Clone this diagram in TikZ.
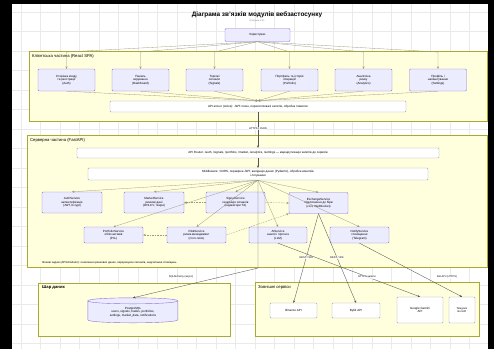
\documentclass[tikz,border=0pt]{standalone}
\usepackage{fontspec}
\setmainfont{Liberation Sans}
\usetikzlibrary{arrows.meta}
\definecolor{clusterfill}{HTML}{FFFFDE}
\definecolor{clusterline}{HTML}{AAAA33}
\definecolor{nodefill}{HTML}{ECECFF}
\definecolor{nodeline}{HTML}{9370DB}
\definecolor{plainline}{HTML}{A6A1BE}
\definecolor{edgecol}{HTML}{555555}
\definecolor{softedge}{HTML}{9A9A80}
\definecolor{gridcol}{HTML}{EAEAEA}
\begin{document}
\begin{tikzpicture}[x=1pt,y=-1pt,
  cluster/.style={draw=clusterline, fill=clusterfill, line width=0.4pt},
  clabel/.style={anchor=north west, font=\fontsize{4.2}{5}\selectfont, inner sep=0},
  module/.style={draw=nodeline, fill=nodefill, line width=0.4pt, rounded corners=1pt,
    align=center, font=\fontsize{3}{3.7}\selectfont, inner sep=0},
  plainbox/.style={module, fill=white, draw=plainline},
  link/.style={draw=edgecol, line width=0.35pt, -{Stealth[length=2.4pt,width=2.2pt]}},
  softlink/.style={link, draw=softedge, line width=0.3pt},
  dlink/.style={softlink, dash pattern=on 1.6pt off 1pt},
  elabel/.style={font=\fontsize{2.6}{3}\selectfont, fill=white, fill opacity=0.75,
    text opacity=1, inner sep=0.6pt, align=center}]
\useasboundingbox (0,0) rectangle (494,349);
% page frame and grid
\fill[black] (0,0) rectangle (494,349);
\fill[white] (12,4) rectangle (488,349);
\foreach \gx in {21,40.5,...,488} \draw[gridcol, line width=0.3pt] (\gx,4) -- (\gx,349);
\foreach \gy in {12,31.5,...,349} \draw[gridcol, line width=0.3pt] (12,\gy) -- (488,\gy);

% title
\node[font=\bfseries\fontsize{6.4}{7}\selectfont] (title) at (257,15) {Діаграма зв'язків модулів вебзастосунку};
\node[font=\fontsize{2.4}{3}\selectfont, text=gray] (subtitle) at (257,21) {(Рисунок 2.4)};

% clusters
\draw[cluster] (29,51) rectangle (487,121);
\node[clabel] (clientlbl) at (32,54.5) {Клієнтська частина (React SPA)};
\draw[cluster] (27,135) rectangle (487,267);
\node[clabel] (serverlbl) at (30,138.5) {Серверна частина (FastAPI)};
\draw[cluster] (38,283) rectangle (230,336);
\node[clabel, font=\bfseries\fontsize{4.2}{5}\selectfont] (datalbl) at (42,285.5) {Шар даних};
\draw[cluster] (255,282) rectangle (479,336);
\node[clabel] (extlbl) at (258,285) {Зовнішні сервіси};

% user
\node[module, minimum width=65pt, minimum height=13pt] (user) at (257.5,35) {Користувач};

% client modules
\foreach \n/\cx/\txt in {
  c1/66.5/{Сторінка входу\\та реєстрації\\(Auth)},
  c2/140.5/{Панель\\керування\\(Dashboard)},
  c3/214.5/{Торгові\\сигнали\\(Signals)},
  c4/289.5/{Портфель та історія\\операцій\\(Portfolio)},
  c5/363.5/{Аналітика\\ринку\\(Analytics)},
  c6/438/{Профіль і\\налаштування\\(Settings)}}
  \node[module, minimum width=57pt, minimum height=22pt] (\n) at (\cx,80) {\txt};

\node[plainbox, minimum width=296pt, minimum height=11pt] (api) at (258,106.5)
  {API-клієнт (Axios): JWT-токен, перехоплювачі запитів, обробка помилок};

% server modules
\node[plainbox, minimum width=362pt, minimum height=10pt] (s1) at (258,153)
  {API Router: /auth, /signals, /portfolio, /market, /analytics, /settings — маршрутизація запитів до сервісів};
\node[plainbox, minimum width=340pt, minimum height=12pt] (s2) at (258,174)
  {Middleware: CORS, перевірка JWT, валідація даних (Pydantic), обробка винятків\\і логування};

\node[module, minimum width=60pt, minimum height=21pt] (a) at (72,202.5) {AuthService\\автентифікація\\(JWT, bcrypt)};
\node[module, minimum width=60pt, minimum height=21pt] (b) at (154,202.5) {MarketService\\ринкові дані\\(OHLCV, тікери)};
\node[module, minimum width=59pt, minimum height=21pt] (c) at (235.5,202.5) {SignalService\\генерація сигналів\\(індикатори ТА)};
\node[module, minimum width=59pt, minimum height=21pt] (d) at (318.5,203) {ExchangeService\\підключення до бірж\\(ccxt, WebSocket)};
\node[module, minimum width=59pt, minimum height=16pt] (e) at (113.5,235) {PortfolioService\\облік активів\\(PnL)};
\node[module, minimum width=59pt, minimum height=16pt] (f) at (196.5,235) {RiskService\\ризик-менеджмент\\(стоп-лоси)};
\node[module, minimum width=58pt, minimum height=16pt] (g) at (278,235) {AIService\\аналіз і прогноз\\(LLM)};
\node[module, minimum width=59pt, minimum height=16pt] (h) at (359.5,235) {NotifyService\\сповіщення\\(Telegram)};

\node[anchor=west, font=\fontsize{2.8}{3.4}\selectfont, inner sep=0] (note) at (42,262.5)
  {Фонові задачі (APScheduler): оновлення ринкових даних, перерахунок сигналів, надсилання сповіщень};

% database
\node[minimum width=90pt, minimum height=25pt, inner sep=0] (db) at (133,310.5) {};
\path[draw=nodeline, fill=nodefill, line width=0.4pt]
  (db.north west) ++(0,3) -- ++(0,19) .. controls +(0,4) and +(0,4) .. ++(90,0)
  -- ++(0,-19) .. controls +(0,-4) and +(0,-4) .. ++(-90,0) -- cycle;
\draw[nodeline, line width=0.4pt] (db.north west) ++(0,3) .. controls +(0,4) and +(0,4) .. ++(90,0);
\node[align=center, font=\fontsize{3}{3.7}\selectfont, inner sep=0] (dbtext) at (133,312)
  {PostgreSQL\\users, signals, trades, portfolios,\\settings, market\_data, notifications};

% external services
\node[plainbox, minimum width=47pt, minimum height=15pt] (x1) at (293.5,310.5) {Binance API};
\node[plainbox, minimum width=48pt, minimum height=15pt] (x2) at (356,310.5) {Bybit API};
\node[plainbox, minimum width=46pt, minimum height=26pt] (x3) at (420,310) {Google Gemini\\API};
\node[plainbox, minimum width=26pt, minimum height=26pt, font=\fontsize{2.6}{3.2}\selectfont] (x4) at (462,310) {Telegram\\Bot API};

% connectors: user to client modules
\foreach \n/\cx in {c1/66.5,c2/140.5,c3/214.5,c4/289.5,c5/363.5,c6/438}
  \draw[softlink] (user.south) -- (\cx,52) -- (\n.north);
\foreach \n in {c1,c2,c3,c4,c5,c6}
  \draw[softlink] (\n.south) -- (api.north);

\draw[link] (api.south) -- (s1.north) node[elabel, pos=0.45] (httplbl) {HTTPS / JSON};
\draw[link] (s1.south) -- (s2.north);

% connectors inside the server
\foreach \n in {a,b,c,d,e,f,g,h}
  \draw[softlink] (s2.south) -- (\n.north);
\draw[dlink] (c.west) -- (b.east);
\draw[dlink] (c.east) -- (d.west);
\draw[dlink] (f.west) -- (e.east);
\draw[dlink] (f.east) -- (d.south west);

% connectors to data and external services
\coordinate (bend) at (258,268);
\draw[link] (s2.south) -- (bend) -- (db.north);
\node[elabel] (sqllbl) at (181,277) {SQLAlchemy (async)};
\draw[link] (d.south) -- (x1.north) node[elabel, pos=0.49] (restlbl1) {REST / WS};
\draw[link] (d.south) -- (x2.north) node[elabel, pos=0.49] (restlbl2) {REST / WS};
\draw[link] (g.south) -- (x3.north);
\node[elabel] (aillbl) at (367,277) {HTTPS-запити};
\draw[link] (h.south) -- (x4.north);
\node[elabel] (botlbl) at (447,277) {Bot API (HTTPS)};
\end{tikzpicture}
\end{document}
